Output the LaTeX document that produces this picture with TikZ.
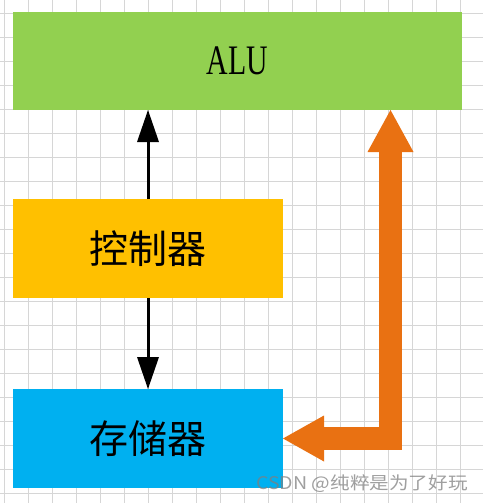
\documentclass[tikz,border=0pt]{standalone}
\usepackage{fontspec}
\usetikzlibrary{arrows.meta}
\newfontfamily\cjk{Noto Sans CJK SC}
\newfontfamily\alufont[FakeStretch=0.71]{Liberation Serif}
\definecolor{gridgray}{HTML}{D6D6D6}
\definecolor{aluGreen}{HTML}{92D050}
\definecolor{ctrlYellow}{HTML}{FFC000}
\definecolor{memBlue}{HTML}{00B0F0}
\definecolor{arrOrange}{HTML}{E97112}
\definecolor{wmGray}{HTML}{7F7F7F}
\tikzset{
  gridline/.style={draw=gridgray, line width=1pt},
  box/.style={draw=none, inner sep=0pt, outer sep=0pt, text=black},
  blackarrow/.style={draw=black, line width=3pt,
    -{Triangle[length=32pt,width=22pt,line width=0pt]}},
  bigarrow/.style={draw=arrOrange, line width=23pt, line join=miter,
    {Triangle[length=42pt,width=46pt,line width=0pt]}-{Triangle[length=41pt,width=46pt,line width=0pt]}},
  cjktext/.style={font=\cjk\fontsize{39}{39}\selectfont},
}
\begin{document}
\begin{tikzpicture}[x=1pt,y=-1pt]
\useasboundingbox (0,0) rectangle (483,503);
\fill[white] (0,0) rectangle (483,503);
% grid
\foreach \i in {0,...,20} \draw[gridline] (4.3+24*\i,0) -- ++(0,503);
\foreach \j in {0,...,20} \draw[gridline] (0,13.3+24*\j) -- ++(483,0);
% boxes
\node[box, fill=aluGreen, minimum width=448.5pt, minimum height=97.5pt,
      font=\alufont\fontsize{42}{42}\selectfont] (alu) at (237.25,61.25) {ALU};
\node[box, fill=ctrlYellow, minimum width=270pt, minimum height=99pt, cjktext] (ctrl) at (148,248.5) {控制器};
\node[box, fill=memBlue, minimum width=270pt, minimum height=99pt, cjktext] (mem) at (148,438.5) {存储器};
% arrows
\draw[blackarrow] (ctrl.north) -- (ctrl.north |- alu.south);
\draw[blackarrow] (ctrl.south) -- (mem.north);
\coordinate (orx) at (390.5,0);
\draw[bigarrow] (alu.south -| orx) |- (mem.east);
% watermark
\node[anchor=west, inner sep=0pt, text=wmGray, opacity=0.75,
      font=\cjk\fontsize{17.5}{17.5}\selectfont] (wm) at (256,483.5) {\scalebox{1.12}[1]{CSDN @纯粹是为了好玩}};
\end{tikzpicture}
\end{document}
